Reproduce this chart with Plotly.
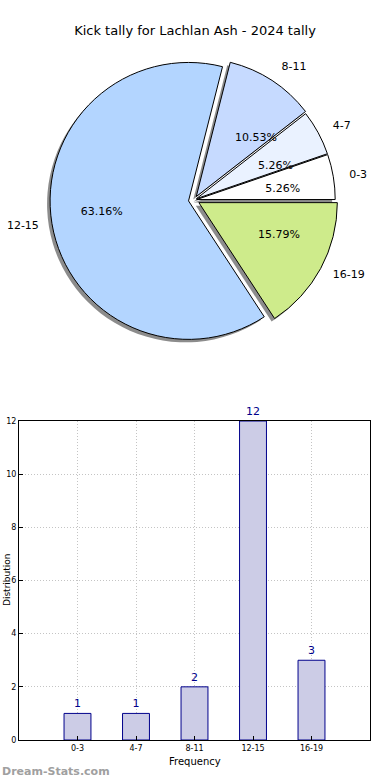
import plotly.graph_objects as go

categories = ["0-3", "4-7", "8-11", "12-15", "16-19"]
counts = [1, 1, 2, 12, 3]
pie_colors = ["#FFFFFF", "#EAF2FF", "#C6DAFF", "#B3D5FF", "#CEEB8B"]
pulls = [0.02, 0.02, 0.03, 0.04, 0.04]
y_ticks = [0, 2, 4, 6, 8, 10, 12]

W, H = 390, 780
cx, cy, half = 194, 200, 144

# first slice starts at 3 o'clock and runs counter-clockwise
rotation = 90 - 360 * counts[0] / sum(counts)


def dom(h=half, dx=0, dy=0):
    return dict(x=[(cx - h + dx) / W, (cx + h + dx) / W],
                y=[1 - (cy + h + dy) / H, 1 - (cy - h + dy) / H])


common = dict(labels=categories, values=counts, sort=False, direction="counterclockwise",
              rotation=rotation, hoverinfo="skip", showlegend=False)
clear = dict(colors=["rgba(0,0,0,0)"] * 5, line=dict(width=0))
txt = dict(family="DejaVu Sans", size=11, color="#000000")

fig = go.Figure()
# shadow
fig.add_trace(go.Pie(**common, pull=pulls, domain=dom(dx=-3, dy=3), textinfo="none",
                     marker=dict(colors=["rgba(120,120,120,0.85)"] * 5,
                                 line=dict(width=0))))
# main pie
fig.add_trace(go.Pie(**common, pull=pulls, domain=dom(), textinfo="none",
                     marker=dict(colors=pie_colors, line=dict(color="#000000", width=1))))
# percentages (placed around 0.6 of the radius)
fig.add_trace(go.Pie(**common, domain=dom(h=69), texttemplate="%{percent:.2%}",
                     textposition="outside", textfont=txt, marker=clear))
# outside labels
fig.add_trace(go.Pie(**common, domain=dom(h=154), textinfo="label",
                     textposition="outside", textfont=txt, marker=clear))

# bar chart
xs = list(range(len(categories)))
fig.add_trace(go.Bar(x=xs, y=counts, width=0.46, text=[str(c) for c in counts],
                     textposition="outside", cliponaxis=False,
                     textfont=dict(family="DejaVu Sans", size=11, color="#00008B"),
                     marker=dict(color="#CCCCE6", line=dict(color="#00008B", width=1)),
                     xaxis="x", yaxis="y", showlegend=False, hoverinfo="skip"))

grid = dict(showgrid=True, gridcolor="#C4C4C4", griddash="1px,2px", gridwidth=1,
            showline=True, linecolor="#000000", linewidth=1, mirror=True, ticks="inside",
            ticklen=4, tickcolor="#000000", zeroline=False, fixedrange=True,
            automargin=False, tickfont=dict(size=8, color="#000000"))

fig.update_layout(
    width=W, height=H, margin=dict(l=0, r=0, t=0, b=0, autoexpand=False),
    paper_bgcolor="white", plot_bgcolor="white",
    font=dict(family="DejaVu Sans", color="#000000"),
    title=dict(text="Kick tally for Lachlan Ash - 2024 tally", x=0.5, xanchor="center",
               y=1 - 30 / H, yanchor="middle", font=dict(size=13, color="#000000")),
    xaxis=dict(domain=[19 / W, 370 / W], range=[-1, 5], tickvals=xs, ticktext=categories,
               **grid),
    yaxis=dict(domain=[1 - 740 / H, 1 - 421 / H], range=[0, 12], tickvals=y_ticks, **grid),
    annotations=[
        dict(text="Frequency", x=(19 + 370) / 2 / W, y=1 - 761 / H, xref="paper",
             yref="paper", xanchor="center", yanchor="middle", showarrow=False,
             font=dict(size=10, color="#000000")),
        dict(text="Distribution", x=0, y=1 - 580 / H, xref="paper", yref="paper",
             xanchor="left", yanchor="middle", textangle=-90, showarrow=False,
             font=dict(size=9, color="#000000")),
        dict(text="<b>Dream-Stats.com</b>", x=0, y=1 - 771 / H, xref="paper",
             yref="paper", xanchor="left", yanchor="middle", showarrow=False,
             font=dict(size=11, color="#A0A0A0")),
    ],
)

fig.write_html("out.html", config={"displayModeBar": False},
               post_script="document.body.style.margin='0';")
